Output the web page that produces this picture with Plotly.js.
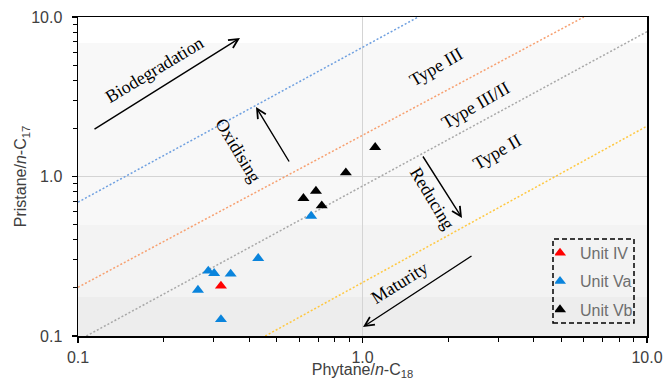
<!DOCTYPE html>
<html>
<head>
<meta charset="utf-8">
<script src="https://cdn.plot.ly/plotly-3.0.1.min.js"></script>
<style>html,body{margin:0;padding:0;background:#fff}#chart{width:666px;height:380px}</style>
</head>
<body>
<div id="chart"></div>
<script>
// ---- data ----
const seriesNames = ['Unit IV', 'Unit Va', 'Unit Vb'];
const unitIV_x = [0.318];
const unitIV_y = [0.206];
const unitVa_x = [0.264, 0.287, 0.301, 0.344, 0.430, 0.318, 0.660];
const unitVa_y = [0.194, 0.256, 0.247, 0.245, 0.307, 0.127, 0.565];
const unitVb_x = [1.108, 0.874, 0.620, 0.686, 0.719];
const unitVb_y = [1.524, 1.056, 0.730, 0.811, 0.656];

// boundary lines (end points)
const lineBlue_x = [0.1, 1.57],   lineBlue_y = [0.69, 10];
const lineOrange_x = [0.1, 6.0],  lineOrange_y = [0.202, 10];
const lineGray_x = [0.107, 10],   lineGray_y = [0.1, 8.09];
const lineYellow_x = [0.455, 10], lineYellow_y = [0.1, 2.07];

const tickVals = [0.1, 1, 10];
const tickText = ['0.1', '1.0', '10.0'];

// ---- layout helpers (pixel -> paper) ----
const L = 78, R = 647, T = 17, B = 336, W = R - L, H = B - T;
const px = x => (x - L) / W;
const py = y => (B - y) / H;

const serif = 'Liberation Serif, Times New Roman, serif';
const sans = 'Liberation Sans, Arial, sans-serif';

function lineTrace(x, y, color) {
  return {x: x, y: y, mode: 'lines', type: 'scatter', showlegend: false, hoverinfo: 'skip',
          line: {color: color, width: 1.5, dash: '2px,2px'}};
}
function ptTrace(x, y, name, color, grp) {
  return {x: x, y: y, mode: 'markers', type: 'scatter', name: name, legendgroup: grp,
          marker: {symbol: 'triangle-up', size: 10.5, color: color}};
}

const traces = [
  lineTrace(lineBlue_x, lineBlue_y, '#6fa0e0'),
  lineTrace(lineOrange_x, lineOrange_y, '#f7a070'),
  lineTrace(lineGray_x, lineGray_y, '#a8a8a8'),
  lineTrace(lineYellow_x, lineYellow_y, '#ffc840'),
  ptTrace(unitIV_x, unitIV_y, seriesNames[0], '#ff0000', 'a'),
  ptTrace(unitVa_x, unitVa_y, seriesNames[1], '#0a84dc', 'b'),
  ptTrace(unitVb_x, unitVb_y, seriesNames[2], '#000000', 'c')
];

function label(text, cx, cy, ang) {
  return {text: text, xref: 'paper', yref: 'paper', x: px(cx), y: py(cy), showarrow: false,
          xanchor: 'center', yanchor: 'middle', textangle: ang,
          font: {family: serif, size: 18, color: '#000'}};
}
function arrow(tx, ty, hx, hy) {
  return {text: '', xref: 'paper', yref: 'paper', x: px(hx), y: py(hy), ax: tx - hx, ay: ty - hy,
          showarrow: true, arrowhead: 5, arrowsize: 1.3, arrowwidth: 1.4, arrowcolor: '#000', standoff: 0};
}

const annotations = [
  label('Biodegradation', 154, 70, -31),
  arrow(93, 130, 240, 38),
  label('Oxidising', 238, 150, 59),
  arrow(290, 163, 256, 107),
  label('Type III', 436, 67, -30),
  label('Type III/II', 476, 105, -30),
  label('Type II', 497, 152, -30),
  label('Reducing', 432, 198, 59),
  arrow(422, 155, 462, 218),
  label('Maturity', 399, 283, -32),
  arrow(473, 255, 363, 327)
];

const band = (y0, y1, c) => ({type: 'rect', xref: 'paper', yref: 'paper', x0: 0, x1: 1,
  y0: py(y0), y1: py(y1), fillcolor: c, line: {width: 0}, layer: 'below'});

const shapes = [
  band(336, 297, '#ededed'),
  band(297, 225, '#f3f3f3'),
  band(225, 43, '#f8f8f8'),
  {type: 'rect', xref: 'paper', yref: 'paper', x0: px(553), x1: px(634), y0: py(323), y1: py(239),
   line: {color: '#000', width: 1.5, dash: '5px,3px'}, fillcolor: 'rgba(0,0,0,0)', layer: 'above'}
];

const axisCommon = {
  type: 'log', showline: true, linecolor: '#000', linewidth: 1.5, mirror: true,
  ticks: 'outside', ticklen: 5, tickwidth: 1.2, tickcolor: '#000',
  tickmode: 'array', tickvals: tickVals, ticktext: tickText,
  showgrid: true, gridcolor: '#d4d4d4', gridwidth: 1.2, zeroline: false,
  tickfont: {family: sans, size: 16, color: '#404040'},
  minor: {dtick: 'D1', ticks: 'outside', ticklen: 4, tickwidth: 1, tickcolor: '#000', showgrid: false}
};

const layout = {
  width: 666, height: 380,
  margin: {l: L, r: 666 - R, t: T, b: 380 - B, pad: 0},
  paper_bgcolor: '#fff', plot_bgcolor: '#fff',
  showlegend: true,
  xaxis: Object.assign({}, axisCommon, {range: [-1, 1], ticklabelstandoff: 1,
    title: {text: 'Phytane/<i>n</i>-C<sub>18</sub>', standoff: 2, font: {family: sans, size: 16, color: '#404040'}}}),
  yaxis: Object.assign({}, axisCommon, {range: [-1, 1], ticklabelstandoff: 6,
    title: {text: 'Pristane/<i>n</i>-C<sub>17</sub>', standoff: 0, font: {family: sans, size: 16, color: '#404040'}}}),
  legend: {x: px(555), y: py(236), xanchor: 'left', yanchor: 'top', bgcolor: 'rgba(0,0,0,0)',
           borderwidth: 0, traceorder: 'grouped', tracegroupgap: 4.5, indentation: -15,
           font: {family: sans, size: 16, color: '#6e6e6e'}},
  shapes: shapes,
  annotations: annotations
};

Plotly.newPlot('chart', traces, layout, {displayModeBar: false, staticPlot: true});
</script>
</body>
</html>
